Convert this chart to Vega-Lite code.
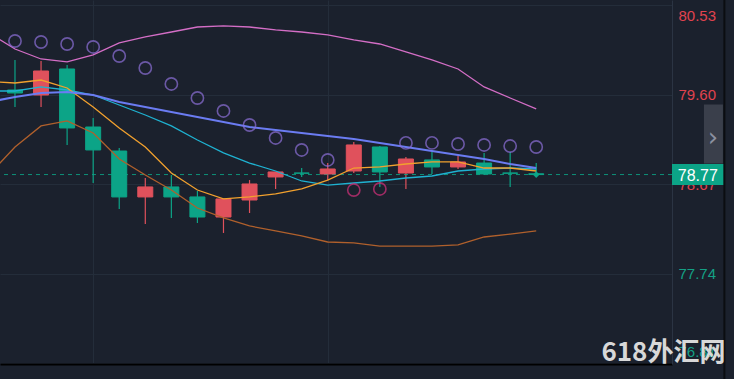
{
  "$schema": "https://vega.github.io/schema/vega-lite/v6.json",
  "width": 672,
  "height": 364,
  "autosize": {"type": "none"},
  "padding": {"left": 0, "top": 0, "right": 62, "bottom": 15},
  "background": "#1b212d",
  "config": {"view": {"stroke": null}, "font": "Liberation Sans"},
  "datasets": {
    "candles": [
      {"i": 0, "o": 79.650, "h": 79.963, "l": 79.473, "c": 79.619},
      {"i": 1, "o": 79.598, "h": 79.952, "l": 79.473, "c": 79.848},
      {"i": 2, "o": 79.869, "h": 79.911, "l": 79.078, "c": 79.255},
      {"i": 3, "o": 79.265, "h": 79.359, "l": 78.682, "c": 79.026},
      {"i": 4, "o": 79.015, "h": 79.047, "l": 78.412, "c": 78.537},
      {"i": 5, "o": 78.537, "h": 78.734, "l": 78.255, "c": 78.641},
      {"i": 6, "o": 78.641, "h": 78.766, "l": 78.318, "c": 78.537},
      {"i": 7, "o": 78.537, "h": 78.599, "l": 78.266, "c": 78.328},
      {"i": 8, "o": 78.328, "h": 78.516, "l": 78.162, "c": 78.516},
      {"i": 9, "o": 78.505, "h": 78.713, "l": 78.370, "c": 78.672},
      {"i": 10, "o": 78.745, "h": 78.797, "l": 78.620, "c": 78.797},
      {"i": 11, "o": 78.786, "h": 78.838, "l": 78.745, "c": 78.784},
      {"i": 12, "o": 78.776, "h": 78.890, "l": 78.713, "c": 78.828},
      {"i": 13, "o": 78.807, "h": 79.109, "l": 78.786, "c": 79.078},
      {"i": 14, "o": 79.057, "h": 79.067, "l": 78.641, "c": 78.797},
      {"i": 15, "o": 78.786, "h": 78.953, "l": 78.620, "c": 78.932},
      {"i": 16, "o": 78.922, "h": 79.005, "l": 78.776, "c": 78.849},
      {"i": 17, "o": 78.849, "h": 78.963, "l": 78.828, "c": 78.901},
      {"i": 18, "o": 78.890, "h": 78.995, "l": 78.766, "c": 78.776},
      {"i": 19, "o": 78.786, "h": 79.005, "l": 78.641, "c": 78.784},
      {"i": 20, "o": 78.778, "h": 78.890, "l": 78.745, "c": 78.770}
    ],
    "lines": [
      {"i": -1, "up": 80.244, "mid": 79.525, "low": 78.766, "ma1": 79.739, "ma2": 79.640},
      {"i": 0, "up": 80.077, "mid": 79.578, "low": 79.057, "ma1": 79.723, "ma2": 79.640},
      {"i": 1, "up": 79.973, "mid": 79.619, "low": 79.276, "ma1": 79.754, "ma2": 79.682},
      {"i": 2, "up": 79.942, "mid": 79.630, "low": 79.328, "ma1": 79.671, "ma2": 79.650},
      {"i": 3, "up": 80.015, "mid": 79.598, "low": 79.203, "ma1": 79.473, "ma2": 79.598},
      {"i": 4, "up": 80.140, "mid": 79.525, "low": 78.932, "ma1": 79.255, "ma2": 79.494},
      {"i": 5, "up": 80.202, "mid": 79.473, "low": 78.766, "ma1": 79.057, "ma2": 79.390},
      {"i": 6, "up": 80.254, "mid": 79.421, "low": 78.609, "ma1": 78.786, "ma2": 79.276},
      {"i": 7, "up": 80.306, "mid": 79.369, "low": 78.422, "ma1": 78.609, "ma2": 79.130},
      {"i": 8, "up": 80.317, "mid": 79.317, "low": 78.318, "ma1": 78.516, "ma2": 78.995},
      {"i": 9, "up": 80.306, "mid": 79.265, "low": 78.235, "ma1": 78.537, "ma2": 78.890},
      {"i": 10, "up": 80.275, "mid": 79.234, "low": 78.183, "ma1": 78.568, "ma2": 78.807},
      {"i": 11, "up": 80.254, "mid": 79.203, "low": 78.131, "ma1": 78.620, "ma2": 78.703},
      {"i": 12, "up": 80.223, "mid": 79.172, "low": 78.068, "ma1": 78.713, "ma2": 78.661},
      {"i": 13, "up": 80.171, "mid": 79.140, "low": 78.058, "ma1": 78.838, "ma2": 78.682},
      {"i": 14, "up": 80.129, "mid": 79.099, "low": 78.026, "ma1": 78.849, "ma2": 78.703},
      {"i": 15, "up": 80.046, "mid": 79.057, "low": 78.026, "ma1": 78.880, "ma2": 78.734},
      {"i": 16, "up": 79.963, "mid": 79.015, "low": 78.026, "ma1": 78.901, "ma2": 78.755},
      {"i": 17, "up": 79.869, "mid": 78.974, "low": 78.037, "ma1": 78.901, "ma2": 78.807},
      {"i": 18, "up": 79.682, "mid": 78.932, "low": 78.120, "ma1": 78.838, "ma2": 78.828},
      {"i": 19, "up": 79.567, "mid": 78.880, "low": 78.151, "ma1": 78.838, "ma2": 78.838},
      {"i": 20, "up": 79.453, "mid": 78.838, "low": 78.183, "ma1": 78.807, "ma2": 78.828}
    ],
    "sar": [
      {"i": 0, "v": 80.160, "pos": "above"},
      {"i": 1, "v": 80.150, "pos": "above"},
      {"i": 2, "v": 80.129, "pos": "above"},
      {"i": 3, "v": 80.098, "pos": "above"},
      {"i": 4, "v": 80.004, "pos": "above"},
      {"i": 5, "v": 79.879, "pos": "above"},
      {"i": 6, "v": 79.713, "pos": "above"},
      {"i": 7, "v": 79.567, "pos": "above"},
      {"i": 8, "v": 79.432, "pos": "above"},
      {"i": 9, "v": 79.286, "pos": "above"},
      {"i": 10, "v": 79.151, "pos": "above"},
      {"i": 11, "v": 79.026, "pos": "above"},
      {"i": 12, "v": 78.922, "pos": "above"},
      {"i": 13, "v": 78.609, "pos": "below"},
      {"i": 14, "v": 78.620, "pos": "below"},
      {"i": 15, "v": 79.099, "pos": "above"},
      {"i": 16, "v": 79.099, "pos": "above"},
      {"i": 17, "v": 79.088, "pos": "above"},
      {"i": 18, "v": 79.078, "pos": "above"},
      {"i": 19, "v": 79.067, "pos": "above"},
      {"i": 20, "v": 79.057, "pos": "above"}
    ],
    "last": [{"i": 20, "price": 78.77, "label": "78.77"}],
    "note": [{"text": "618外汇网", "arrow": "›"}]
  },
  "layer": [
    {
      "data": {"name": "candles"},
      "mark": {"type": "rule", "strokeWidth": 1.2},
      "encoding": {
        "x": {"field": "i", "type": "quantitative", "title": null,
          "scale": {"domain": [-0.575, 25.21], "nice": false, "zero": false, "padding": 0},
          "axis": {"values": [3, 12], "grid": true, "gridColor": "#242d3a", "labels": false, "ticks": false, "domainColor": "#000000", "domainWidth": 2}},
        "y": {"field": "l", "type": "quantitative", "title": null,
          "scale": {"domain": [76.798, 80.587], "nice": false, "zero": false, "padding": 0},
          "axis": {"orient": "right", "values": [76.81, 77.74, 78.67, 79.6, 80.53], "format": ".2f", "grid": true, "gridColor": "#242d3a", "ticks": false, "domainColor": "#2b3443", "labelPadding": 6, "labelFontSize": 15, "labelFont": "Liberation Sans", "labelFlush": 10, "labelFlushOffset": -3,
            "labelColor": {"condition": {"test": "datum.value > 78.5", "value": "#e0434f"}, "value": "#14a085"}}},
        "y2": {"field": "h"},
        "color": {"condition": {"test": "datum.c >= datum.o", "value": "#e0515c"}, "value": "#0ca487"}
      }
    },
    {
      "data": {"name": "last"},
      "mark": {"type": "rule", "strokeDash": [4, 4], "strokeWidth": 1, "color": "#0ca487", "opacity": 0.85},
      "encoding": {"y": {"field": "price", "type": "quantitative", "title": null}}
    },
    {
      "data": {"name": "candles"},
      "mark": {"type": "bar", "width": 15, "strokeWidth": 1},
      "encoding": {
        "x": {"field": "i", "type": "quantitative", "title": null},
        "y": {"field": "o", "type": "quantitative", "title": null},
        "y2": {"field": "c"},
        "color": {"condition": {"test": "datum.c >= datum.o", "value": "#e0515c"}, "value": "#0ca487"},
        "stroke": {"condition": {"test": "datum.c >= datum.o", "value": "#e0515c"}, "value": "#0ca487"}
      }
    },
    {
      "data": {"name": "lines"},
      "mark": {"type": "line", "color": "#b0602c", "strokeWidth": 1.3, "clip": true},
      "encoding": {"x": {"field": "i", "type": "quantitative", "title": null}, "y": {"field": "low", "type": "quantitative", "title": null}}
    },
    {
      "data": {"name": "lines"},
      "mark": {"type": "line", "color": "#d46ec6", "strokeWidth": 1.3, "clip": true},
      "encoding": {"x": {"field": "i", "type": "quantitative", "title": null}, "y": {"field": "up", "type": "quantitative", "title": null}}
    },
    {
      "data": {"name": "lines"},
      "mark": {"type": "line", "color": "#1fb2d1", "strokeWidth": 1.3, "clip": true},
      "encoding": {"x": {"field": "i", "type": "quantitative", "title": null}, "y": {"field": "ma2", "type": "quantitative", "title": null}}
    },
    {
      "data": {"name": "lines"},
      "mark": {"type": "line", "color": "#f2a12e", "strokeWidth": 1.3, "clip": true},
      "encoding": {"x": {"field": "i", "type": "quantitative", "title": null}, "y": {"field": "ma1", "type": "quantitative", "title": null}}
    },
    {
      "data": {"name": "lines"},
      "mark": {"type": "line", "color": "#6b7cf2", "strokeWidth": 2, "clip": true},
      "encoding": {"x": {"field": "i", "type": "quantitative", "title": null}, "y": {"field": "mid", "type": "quantitative", "title": null}}
    },
    {
      "data": {"name": "sar"},
      "mark": {"type": "point", "shape": "circle", "filled": false, "size": 150, "strokeWidth": 1.6},
      "encoding": {
        "x": {"field": "i", "type": "quantitative", "title": null},
        "y": {"field": "v", "type": "quantitative", "title": null},
        "color": {"condition": {"test": "datum.pos == 'below'", "value": "#d6317c"}, "value": "#8d70d9"}
      }
    },
    {
      "data": {"name": "last"},
      "mark": {"type": "point", "shape": "diamond", "filled": true, "size": 45, "color": "#0ca487", "opacity": 1},
      "encoding": {"x": {"field": "i", "type": "quantitative", "title": null}, "y": {"field": "price", "type": "quantitative", "title": null}}
    },
    {
      "data": {"name": "last"},
      "mark": {"type": "rule", "strokeWidth": 21, "color": "#0ca487", "clip": false, "strokeCap": "butt"},
      "encoding": {"x": {"datum": 25.21, "type": "quantitative"}, "x2": {"datum": 27.2}, "y": {"field": "price", "type": "quantitative", "title": null}}
    },
    {
      "data": {"name": "last"},
      "mark": {"type": "text", "color": "#ffffff", "fontSize": 16, "font": "Liberation Sans", "align": "center", "baseline": "middle", "clip": false, "dy": 1},
      "encoding": {"x": {"datum": 26.2, "type": "quantitative"}, "y": {"field": "price", "type": "quantitative", "title": null}, "text": {"field": "label"}}
    },
    {
      "data": {"name": "note"},
      "mark": {"type": "rule", "strokeWidth": 19, "color": "#3a3f4b", "clip": false, "strokeCap": "butt"},
      "encoding": {"x": {"datum": 26.8, "type": "quantitative"}, "y": {"datum": 79.5, "type": "quantitative"}, "y2": {"datum": 78.885}}
    },
    {
      "data": {"name": "note"},
      "mark": {"type": "text", "color": "#8c91a0", "fontSize": 26, "font": "DejaVu Sans", "align": "center", "baseline": "middle", "clip": false},
      "encoding": {"x": {"datum": 26.78, "type": "quantitative"}, "y": {"datum": 79.15, "type": "quantitative"}, "text": {"field": "arrow"}}
    },
    {
      "data": {"name": "note"},
      "mark": {"type": "rule", "strokeWidth": 2, "color": "#0b0d11", "clip": false},
      "encoding": {"x": {"datum": 27.22, "type": "quantitative"}, "y": {"datum": 80.587, "type": "quantitative"}, "y2": {"datum": 76.64}}
    },
    {
      "data": {"name": "note"},
      "mark": {"type": "text", "color": "#d8d8d8", "fontSize": 26, "fontWeight": "bold", "font": "Noto Sans CJK SC", "align": "center", "baseline": "middle", "clip": false},
      "encoding": {"x": {"datum": 24.88, "type": "quantitative"}, "y": {"datum": 76.91, "type": "quantitative"}, "text": {"field": "text"}}
    }
  ]
}
